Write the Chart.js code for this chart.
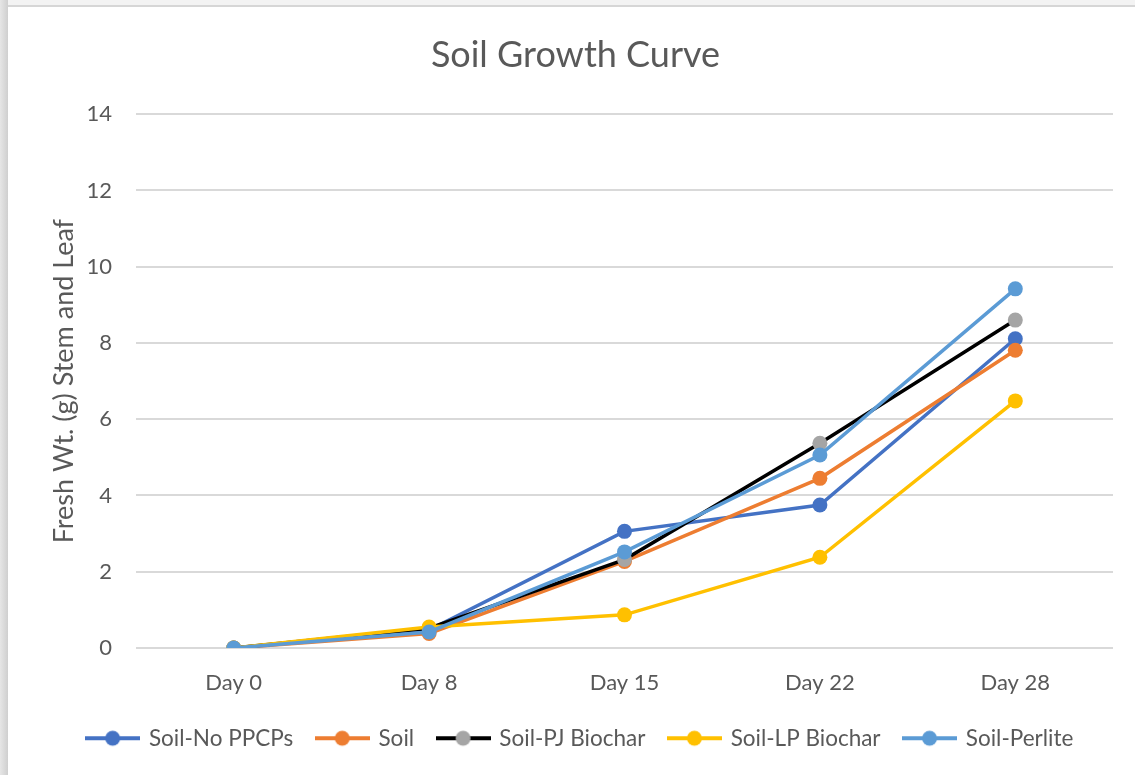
<!DOCTYPE html>
<html>
<head>
<meta charset="utf-8">
<script src="https://cdn.jsdelivr.net/npm/chart.js@4"></script>
<style>
  html, body { margin: 0; padding: 0; width: 1135px; height: 775px; overflow: hidden; background: #f3f3f3; }
  #frame { position: absolute; left: 8px; top: 5px; width: 1140px; height: 770px; background: #fff; border-top: 2px solid #d6d6d6; }
  #edge { position: absolute; left: 0; top: 0; width: 8px; height: 775px; background: linear-gradient(to right, #e6e6e6, #cfcfcf); }
  #wrap { position: absolute; left: 0; top: 1px; width: 1135px; height: 768px; }
</style>
</head>
<body>
<div id="edge"></div>
<div id="frame">
  <div id="wrap"><canvas id="c" width="1135" height="768"></canvas></div>
</div>
<script>
// Harvest days and fresh weight (g) of stem and leaf per treatment
const days = ['Day 0', 'Day 8', 'Day 15', 'Day 22', 'Day 28'];
const soilNoPPCPs = [0, 0.47, 3.06, 3.75, 8.11];
const soil = [0, 0.38, 2.27, 4.45, 7.81];
const soilPJBiochar = [0, 0.52, 2.32, 5.37, 8.6];
const soilLPBiochar = [0, 0.55, 0.87, 2.38, 6.48];
const soilPerlite = [0, 0.42, 2.52, 5.06, 9.42];
const yTicks = [0, 2, 4, 6, 8, 10, 12, 14];

const seriesNames = ['Soil-No PPCPs', 'Soil', 'Soil-PJ Biochar', 'Soil-LP Biochar', 'Soil-Perlite'];
const seriesData = [soilNoPPCPs, soil, soilPJBiochar, soilLPBiochar, soilPerlite];
const lineColors = ['#4472C4', '#ED7D31', '#000000', '#FFC000', '#5B9BD5'];
const markerColors = ['#4472C4', '#ED7D31', '#A5A5A5', '#FFC000', '#5B9BD5'];

const FONT = 'Lato, "Open Sans", sans-serif';
const TEXT = '#595959';

// Legend swatch: short line with a round marker in the middle
function swatch(line, marker) {
  const cv = document.createElement('canvas');
  cv.width = 55; cv.height = 18;
  const g = cv.getContext('2d');
  g.strokeStyle = line; g.lineWidth = 4; g.lineCap = 'butt';
  g.beginPath(); g.moveTo(0, 9); g.lineTo(55, 9); g.stroke();
  g.fillStyle = marker;
  g.beginPath(); g.arc(27.5, 9, 7.5, 0, Math.PI * 2); g.fill();
  return cv;
}
const swatches = seriesNames.map((n, i) => swatch(lineColors[i], markerColors[i]));

const datasets = seriesNames.map((name, i) => ({
  label: name,
  data: seriesData[i],
  borderColor: lineColors[i],
  backgroundColor: markerColors[i],
  pointBackgroundColor: markerColors[i],
  pointBorderColor: markerColors[i],
  pointBorderWidth: 0,
  pointRadius: 7.5,
  pointHoverRadius: 7.5,
  borderWidth: 3.5,
  tension: 0,
  order: seriesNames.length - i
}));

// Nudge the legend row a few pixels to the right
const legendNudge = {
  id: 'legendNudge',
  afterLayout(chart) {
    if (chart.legend) { chart.legend.left += 5; chart.legend.right += 5; }
  }
};

new Chart(document.getElementById('c'), {
  type: 'line',
  data: { labels: days, datasets },
  plugins: [legendNudge],
  options: {
    responsive: false,
    animation: false,
    events: [],
    layout: { padding: { left: 0, right: 0, top: 0, bottom: 16.5 } },
    plugins: {
      title: {
        display: true,
        text: 'Soil Growth Curve',
        color: TEXT,
        font: { family: FONT, size: 36, weight: 'normal' },
        padding: { top: 26, bottom: 37 }
      },
      legend: {
        position: 'bottom',
        labels: {
          color: TEXT,
          font: { family: FONT, size: 22.5 },
          padding: 24,
          usePointStyle: true,
          pointStyleWidth: 50,
          generateLabels: (chart) => chart.data.datasets.map((ds, i) => ({
            text: ds.label,
            fontColor: TEXT,
            pointStyle: swatches[i],
            lineWidth: 0,
            strokeStyle: 'transparent',
            fillStyle: 'transparent',
            hidden: false,
            datasetIndex: i
          }))
        }
      },
      tooltip: { enabled: false }
    },
    scales: {
      x: {
        offset: true,
        grid: { display: false, drawTicks: false },
        border: { display: false },
        ticks: { color: TEXT, font: { family: FONT, size: 22 }, padding: 22 },
        afterFit: (s) => { s.height = 55; }
      },
      y: {
        min: 0,
        max: 14,
        afterBuildTicks: (s) => { s.ticks = yTicks.map(v => ({ value: v })); },
        grid: { color: '#d9d9d9', lineWidth: 2, drawTicks: false },
        border: { display: false },
        ticks: { color: TEXT, font: { family: FONT, size: 22 }, padding: 24 },
        title: {
          display: true,
          text: 'Fresh Wt. (g) Stem and Leaf',
          color: TEXT,
          font: { family: FONT, size: 27 },
          padding: { top: 40, bottom: 0 }
        },
        afterFit: (s) => { s.width = 128; }
      },
      // empty margin on the right of the plot
      yRight: {
        position: 'right',
        grid: { display: false, drawTicks: false },
        border: { display: false },
        ticks: { display: false },
        afterFit: (s) => { s.width = 30; }
      }
    }
  }
});
</script>
</body>
</html>
